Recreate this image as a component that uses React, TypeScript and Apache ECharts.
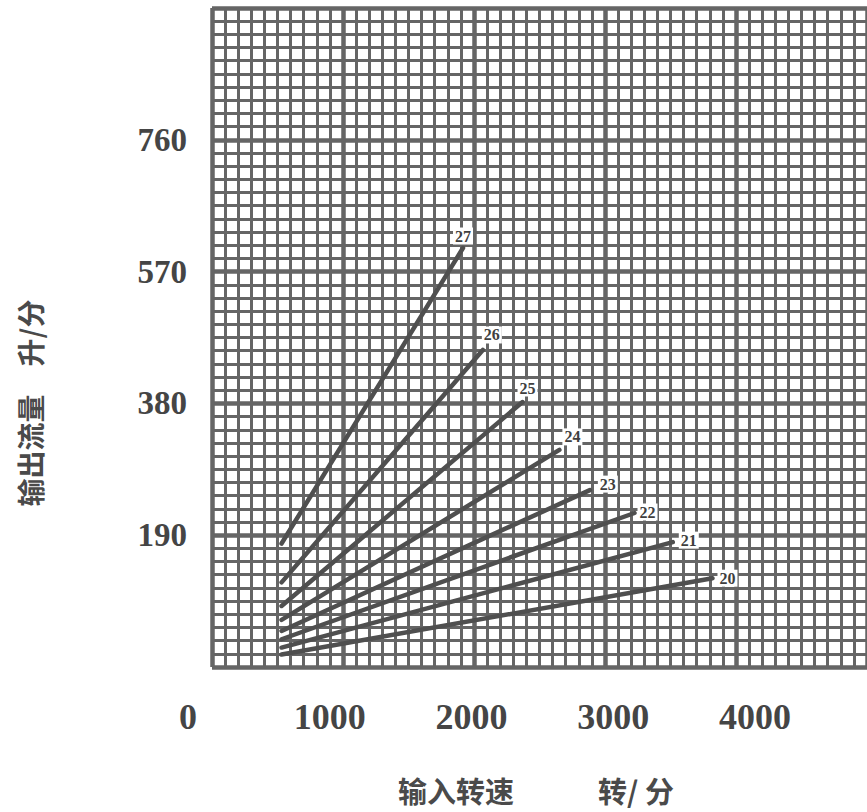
import React, { useEffect, useRef } from "react";
import * as echarts from "echarts";

// ---- data ----
const pumpModels = ["20", "21", "22", "23", "24", "25", "26", "27"];
const startSpeed = 660; // 转/分, common starting speed of all curves
const endSpeed = [3700, 3420, 3150, 2835, 2620, 2360, 2080, 1940];
const startFlow = [18, 28, 40, 52, 68, 88, 122, 178];
const endFlow = [128, 180, 222, 255, 313, 382, 457, 604];

const xTickLabels = [0, 1000, 2000, 3000, 4000];
const yTickLabels = [190, 380, 570, 760];
const yMax = 950;
const xMax = 4000;

const yAxisTitle = "输出流量\u3000升/分";
const xAxisTitleA = "输入转速";
const xAxisTitleB = "转/ 分";

// ---- style ----
const INK = "#4f4f4f";
const GRIDC = "#656565";
const labelOffsets: [number, number][] = [
  [15, 0],
  [16, -2],
  [13, -1],
  [18, -6],
  [13, -13],
  [5, -14],
  [9, -15],
  [0, -12],
];

export default function App() {
  const ref = useRef<HTMLDivElement>(null);
  useEffect(() => {
    if (!ref.current) return;
    const chart = echarts.init(ref.current, undefined, { renderer: "svg" });
    const serif = "'Liberation Serif', 'DejaVu Serif', serif";
    const cjk = "'Noto Sans CJK SC', sans-serif";

    const series = pumpModels.map((name, i) => ({
      name,
      type: "line",
      xAxisIndex: 1,
      yAxisIndex: 1,
      symbol: "circle",
      symbolSize: 1,
      showSymbol: true,
      lineStyle: { color: INK, width: 4.5, cap: "round" },
      itemStyle: { color: INK },
      z: 5,
      data: [
        [startSpeed, startFlow[i]],
        {
          value: [endSpeed[i], endFlow[i]],
          label: {
            show: true,
            formatter: name,
            position: "inside",
            offset: labelOffsets[i],
            fontFamily: serif,
            fontWeight: "bold",
            fontSize: 16,
            color: "#3f3f3f",
            backgroundColor: "#ffffff",
            padding: [1, 2, 0, 2],
          },
        },
      ],
    }));

    chart.setOption({
      animation: false,
      backgroundColor: "#ffffff",
      grid: [
        { left: 212, top: 8, width: 655, height: 659, containLabel: false },
        { left: 188, top: 8, width: 567, height: 659, containLabel: false },
      ],
      xAxis: [
        {
          gridIndex: 0,
          type: "value",
          min: 0,
          max: 50,
          interval: 10,
          axisLine: { show: false },
          axisTick: { show: false },
          axisLabel: { show: false },
          splitLine: { show: true, lineStyle: { color: GRIDC, width: 4.5 } },
          minorTick: { show: false, splitNumber: 10 },
          minorSplitLine: { show: true, lineStyle: { color: GRIDC, width: 3 } },
        },
        {
          gridIndex: 1,
          type: "value",
          min: 0,
          max: xMax,
          interval: 1000,
          axisLine: { show: false },
          axisTick: { show: false },
          splitLine: { show: false },
          axisLabel: {
            show: true,
            margin: 32,
            fontFamily: serif,
            fontWeight: "bold",
            fontSize: 36,
            color: "#454545",
            formatter: (v: number) => (xTickLabels.includes(v) ? String(v) : ""),
          },
        },
      ],
      yAxis: [
        {
          gridIndex: 0,
          type: "value",
          min: 0,
          max: yMax,
          interval: 190,
          axisLine: { show: false },
          axisTick: { show: false },
          axisLabel: {
            show: true,
            margin: 25,
            fontFamily: serif,
            fontWeight: "bold",
            fontSize: 33,
            color: "#454545",
            formatter: (v: number) => (yTickLabels.includes(v) ? String(v) : ""),
          },
          splitLine: { show: true, lineStyle: { color: GRIDC, width: 4.5 } },
          minorTick: { show: false, splitNumber: 10 },
          minorSplitLine: { show: true, lineStyle: { color: GRIDC, width: 3 } },
        },
        {
          gridIndex: 1,
          type: "value",
          min: 0,
          max: yMax,
          show: false,
          splitLine: { show: false },
        },
      ],
      graphic: [
        {
          type: "text",
          x: 30,
          y: 403,
          rotation: Math.PI / 2,
          style: {
            text: yAxisTitle,
            align: "center",
            verticalAlign: "middle",
            fontFamily: cjk,
            fontWeight: "bold",
            fontSize: 28,
            fill: "#4a4a4a",
          },
        },
        {
          type: "text",
          x: 456,
          y: 790,
          style: {
            text: xAxisTitleA,
            align: "center",
            verticalAlign: "middle",
            fontFamily: cjk,
            fontWeight: "bold",
            fontSize: 29,
            fill: "#4a4a4a",
          },
        },
        {
          type: "text",
          x: 636,
          y: 790,
          style: {
            text: xAxisTitleB,
            align: "center",
            verticalAlign: "middle",
            fontFamily: cjk,
            fontWeight: "bold",
            fontSize: 29,
            fill: "#4a4a4a",
          },
        },
      ],
      series,
    });
    return () => chart.dispose();
  }, []);

  return (
    <div
      ref={ref}
      style={{ position: "fixed", left: 0, top: 0, width: 867, height: 812, background: "#fff" }}
    />
  );
}
